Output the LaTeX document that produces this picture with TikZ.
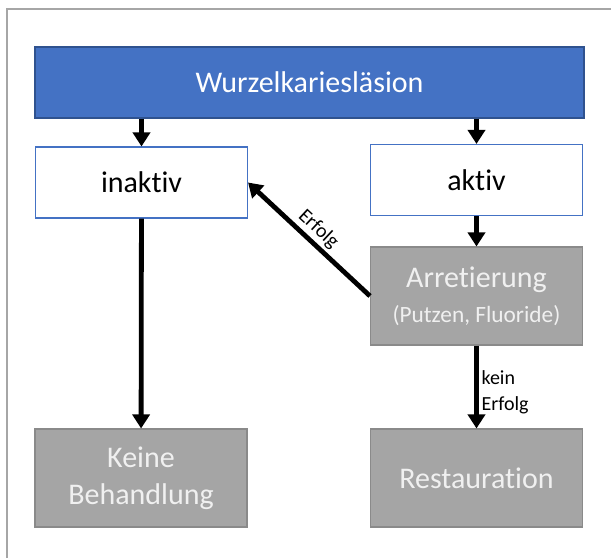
\documentclass[tikz,border=0pt]{standalone}
\usepackage{fontspec}
\setmainfont{Carlito}[Ligatures=NoCommon]
\usetikzlibrary{arrows.meta}
\definecolor{headblue}{HTML}{4472C4}
\definecolor{headline}{HTML}{2F528F}
\definecolor{stepgray}{HTML}{A5A5A5}
\definecolor{stepline}{HTML}{8A8A8A}
\definecolor{framegray}{HTML}{A6A6A6}
\begin{document}
\begin{tikzpicture}[x=0.75pt,y=-0.75pt]
    \tikzstyle{box}=[rectangle,inner sep=0pt,align=center,line width=0.8pt,font=\fontsize{22.5}{28}\selectfont]
    \tikzstyle{head node}=[box,fill=headblue,draw=headline,text=white,minimum width=411.75pt,minimum height=53.25pt]
    \tikzstyle{state node}=[box,fill=white,draw=headblue,minimum width=159pt,minimum height=53.25pt]
    \tikzstyle{result node}=[box,fill=stepgray,draw=stepline,text=white!94!black,minimum width=159pt,minimum height=73.5pt]
    \tikzstyle{flow}=[-{Triangle[width=12.75pt,length=10.5pt]},line width=3.6pt,black]
    \tikzstyle{small label}=[font=\fontsize{15}{19.5}\selectfont,inner sep=2pt]
    \useasboundingbox (0,0) rectangle (611,558);
    % frame
    \draw[framegray,line width=1.1pt] (7,558) -- (7,9) -- (611,9);
    % boxes
      \node[head node] (W) at (309.5,82.5) {Wurzelkariesläsion};
      \node[state node] (In) at (141.5,182.5) {inaktiv};
      \node[state node] (Ak) at (476.5,180) {aktiv};
      \node[result node] (Ar) at (476.5,296) {Arretierung\\[-2pt]{\fontsize{17.5}{22}\selectfont (Putzen, Fluoride)}};
      \node[result node] (KB) at (141,478) {Keine\\Behandlung};
      \node[result node] (Re) at (476.5,478) {Restauration};
    % arrows
      \draw[flow] (W.south -| In) -- (In.north);
      \draw[flow] (W.south -| Ak) -- (Ak.north);
      \draw[flow] (Ak) -- (Ar);
      \draw[flow] (In) -- (KB);
      \draw[flow] (Ar.west) -- node[small label,sloped,midway,above] {Erfolg} (In.east);
      \draw[flow] (Ar) -- node[small label,midway,right,align=left,yshift=-4pt] {kein\\Erfolg} (Re);
\end{tikzpicture}
\end{document}
